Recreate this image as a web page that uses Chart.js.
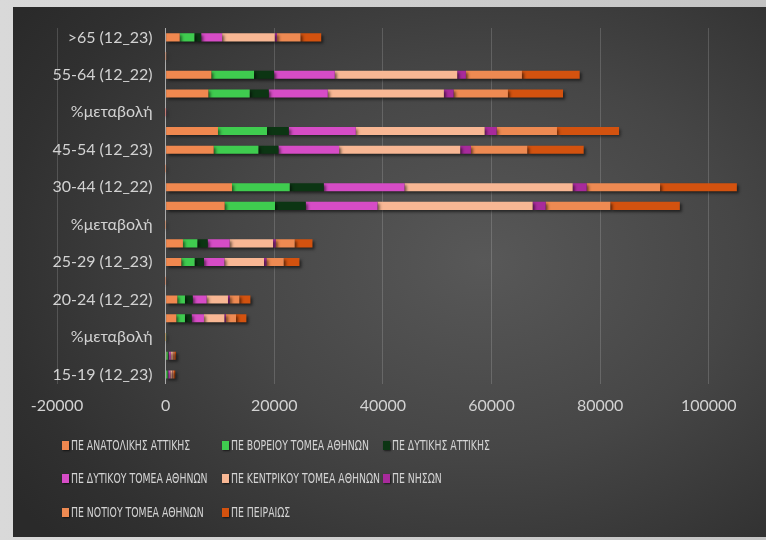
<!DOCTYPE html>
<html lang="el">
<head>
    <meta charset="UTF-8">
    <title>ΠΕ ανά ηλικία</title>
    <style>
        body {
            margin: 0;
            padding: 0;
            width: 766px;
            height: 540px;
            overflow: hidden;
            background: linear-gradient(90deg, #d9d9d9, #c4c4c4);
            font-family: Lato, sans-serif;
        }
        .card {
            position: absolute;
            left: 13px;
            top: 7px;
            width: 760px;
            height: 530px;
            background: radial-gradient(ellipse 75% 80% at 62% 48%, #585858 0%, #464646 45%, #303030 85%, #2a2a2a 100%);
        }
        canvas {
            position: absolute;
            left: 0;
            top: 0;
        }
        .legend-item {
            position: absolute;
            height: 16px;
            line-height: 16px;
            white-space: nowrap;
        }
        .legend-item .sw {
            position: absolute;
            left: 0;
            top: 4px;
            width: 7px;
            height: 9px;
            box-shadow: 1px 1px 2px rgba(0,0,0,0.6);
        }
        .legend-item .txt {
            position: absolute;
            left: 9px;
            top: 0;
            color: #d4d4d4;
            font-family: "Liberation Sans Narrow", "DejaVu Sans Condensed", sans-serif;
            font-size: 14px;
            transform: scaleX(0.74);
            transform-origin: left center;
        }
    </style>
</head>
<body>
    <div class="card"></div>
    <canvas id="chart" width="766" height="540"></canvas>
    <div id="legend"></div>

    <script src="https://cdn.jsdelivr.net/npm/chart.js"></script>
    <script>
        // rows from top to bottom
        const categories = [
            '>65 (12_23)', '%μεταβολή',
            '55-64 (12_22)', '55-64 (12_23)', '%μεταβολή',
            '45-54 (12_22)', '45-54 (12_23)', '%μεταβολή',
            '30-44 (12_22)', '30-44 (12_23)', '%μεταβολή',
            '25-29 (12_22)', '25-29 (12_23)', '%μεταβολή',
            '20-24 (12_22)', '20-24 (12_23)', '%μεταβολή',
            '15-19 (12_22)', '15-19 (12_23)'
        ];

        const anatolikis = [2600, 4, 8420, 7870, -6.5, 9640, 8850, -8.2, 12220, 10870, -11.0, 3190, 2890, -9.4, 2150, 1970, -8.4, 120, 100];
        const voreiou   = [2700, 5, 7860, 7610, -3.2, 9030, 8230, -8.9, 10630, 9270, -12.8, 2650, 2450, -7.5, 1410, 1590, 12.8, 260, 240];
        const dytikisAtt = [1250, 6, 3690, 3500, -5.1, 4000, 3690, -7.8, 6270, 5660, -9.7, 1900, 1720, -9.5, 1420, 1230, -13.4, 150, 140];
        const dytikou   = [3850, 3, 11180, 10880, -2.7, 12350, 11170, -9.6, 14870, 13220, -11.1, 4060, 3760, -7.4, 2580, 2270, -12.0, 420, 380];
        const kentrikou = [9700, 2, 22540, 21380, -5.1, 23720, 22300, -6.0, 30960, 28560, -7.8, 7980, 7300, -8.5, 3920, 3760, -4.1, 380, 360];
        const nison     = [400, 8, 1600, 1790, 11.9, 2210, 1970, -10.9, 2580, 2400, -7.0, 490, 440, -10.2, 320, 290, -9.4, 40, 40];
        const notiou    = [4350, 4, 10320, 10000, -3.1, 11110, 10380, -6.6, 13510, 11910, -11.8, 3500, 3190, -8.9, 1780, 1850, 3.9, 300, 280];
        const peiraios  = [3800, 5, 10630, 10140, -4.6, 11430, 10390, -9.1, 14140, 12790, -9.5, 3270, 2890, -11.6, 2030, 1910, -5.9, 250, 230];

        const xTicks = [-20000, 0, 20000, 40000, 60000, 80000, 100000];

        const series = [
            { name: 'ΠΕ ΑΝΑΤΟΛΙΚΗΣ ΑΤΤΙΚΗΣ', data: anatolikis, color: '#f0884f' },
            { name: 'ΠΕ ΒΟΡΕΙΟΥ ΤΟΜΕΑ ΑΘΗΝΩΝ', data: voreiou, color: '#3fcc4f' },
            { name: 'ΠΕ ΔΥΤΙΚΗΣ ΑΤΤΙΚΗΣ', data: dytikisAtt, color: '#0c3513' },
            { name: 'ΠΕ ΔΥΤΙΚΟΥ ΤΟΜΕΑ ΑΘΗΝΩΝ', data: dytikou, color: '#d64cc6' },
            { name: 'ΠΕ ΚΕΝΤΡΙΚΟΥ ΤΟΜΕΑ ΑΘΗΝΩΝ', data: kentrikou, color: '#f8b794' },
            { name: 'ΠΕ ΝΗΣΩΝ', data: nison, color: '#a82a9c' },
            { name: 'ΠΕ ΝΟΤΙΟΥ ΤΟΜΕΑ ΑΘΗΝΩΝ', data: notiou, color: '#ee8a52' },
            { name: 'ΠΕ ΠΕΙΡΑΙΩΣ', data: peiraios, color: '#d3520f' }
        ];

        // soft drop shadow under the bars
        const barShadow = {
            id: 'barShadow',
            beforeDatasetsDraw(chart) {
                const ctx = chart.ctx;
                ctx.save();
                ctx.shadowColor = 'rgba(0,0,0,0.55)';
                ctx.shadowBlur = 3;
                ctx.shadowOffsetX = 2;
                ctx.shadowOffsetY = 2;
            },
            afterDatasetsDraw(chart) {
                chart.ctx.restore();
            }
        };

        const ctx = document.getElementById('chart').getContext('2d');
        new Chart(ctx, {
            type: 'bar',
            data: {
                labels: categories,
                datasets: series.map(s => ({
                    label: s.name,
                    data: s.data,
                    backgroundColor: s.color,
                    borderWidth: 0,
                    categoryPercentage: 1,
                    barPercentage: 0.43
                }))
            },
            options: {
                indexAxis: 'y',
                responsive: false,
                animation: false,
                layout: {
                    padding: { left: 57, right: 16, top: 28, bottom: 113 }
                },
                plugins: {
                    legend: { display: false },
                    tooltip: { enabled: false }
                },
                scales: {
                    x: {
                        stacked: true,
                        min: -20000,
                        max: 107600,
                        afterBuildTicks(axis) {
                            axis.ticks = xTicks.map(v => ({ value: v }));
                        },
                        grid: {
                            color: ctx => ctx.tick && ctx.tick.value === 0 ? 'rgba(210,210,210,0.75)' : 'rgba(255,255,255,0.16)',
                            drawTicks: false
                        },
                        border: { display: false },
                        ticks: {
                            color: '#d2d2d2',
                            font: { family: 'Lato', size: 16 },
                            padding: 12,
                            maxRotation: 0,
                            callback: v => String(v)
                        }
                    },
                    y: {
                        stacked: true,
                        // labels sit inside the plot, a little left of the zero line
                        position: { x: -2400 },
                        grid: { display: false, drawTicks: false },
                        border: { display: false },
                        ticks: {
                            autoSkip: false,
                            color: '#d2d2d2',
                            font: { family: 'Lato', size: 16 },
                            callback: function (value, index) {
                                return index % 2 === 0 ? categories[index] : '';
                            }
                        }
                    }
                }
            },
            plugins: [barShadow]
        });

        // legend laid out as a 3-column grid like the original
        const legendCols = [62, 222, 383];
        const legendRows = [437, 470, 504];
        const legend = document.getElementById('legend');
        series.forEach((s, i) => {
            const item = document.createElement('div');
            item.className = 'legend-item';
            item.style.left = legendCols[i % 3] + 'px';
            item.style.top = legendRows[Math.floor(i / 3)] + 'px';
            item.innerHTML = '<span class="sw" style="background:' + s.color + '"></span>' +
                '<span class="txt">' + s.name + '</span>';
            legend.appendChild(item);
        });
    </script>
</body>
</html>
